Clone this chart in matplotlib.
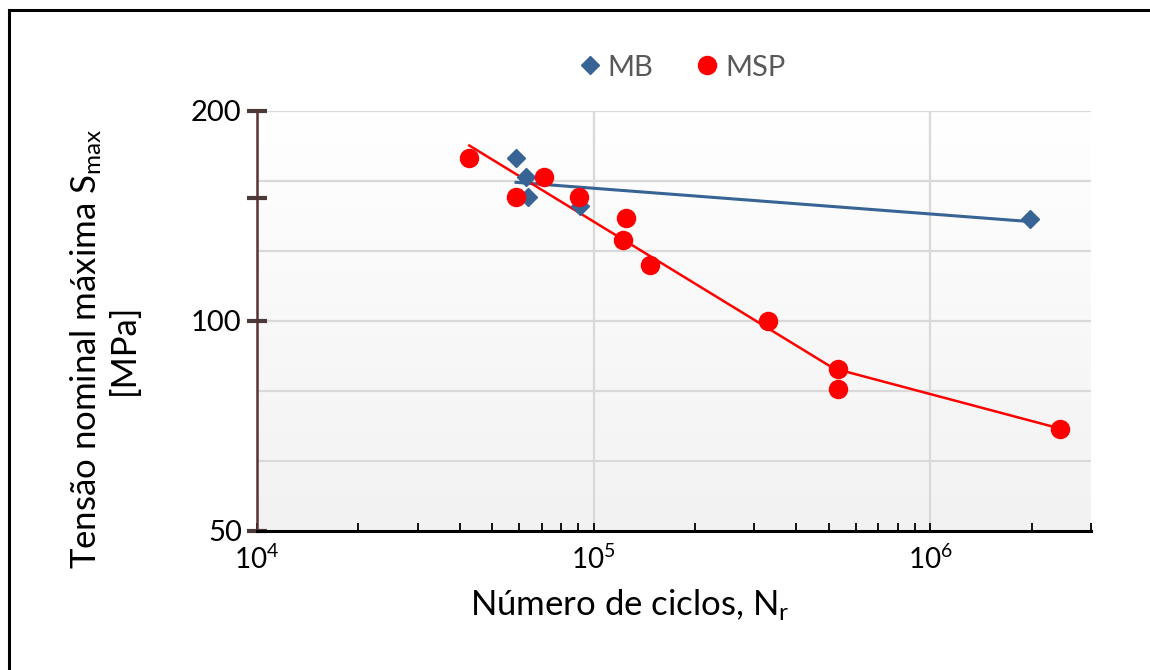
import numpy as np
import matplotlib
matplotlib.use("Agg")
import matplotlib.pyplot as plt
from matplotlib.lines import Line2D
from matplotlib.ticker import FixedLocator, LogFormatterMathtext, NullFormatter

plt.rcParams['font.family'] = ['Lato', 'DejaVu Sans']
plt.rcParams['mathtext.fontset'] = 'custom'
plt.rcParams['mathtext.rm'] = 'Lato'
plt.rcParams['mathtext.it'] = 'Lato:italic'
plt.rcParams['mathtext.bf'] = 'Lato:bold'

# Fatigue data: number of cycles to failure and max nominal stress [MPa]
mb_cycles = [5.88e4, 6.30e4, 6.40e4, 9.10e4, 1.98e6]
mb_stress = [171.0, 161.0, 150.5, 146.0, 140.0]

msp_cycles = [4.27e4, 5.88e4, 7.11e4, 9.05e4, 1.25e5, 1.22e5, 1.47e5,
              3.30e5, 5.31e5, 5.31e5, 2.43e6]
msp_stress = [171.3, 150.6, 160.8, 150.6, 140.3, 130.6, 120.4,
              100.0, 85.2, 80.0, 70.1]

# index groups for the two power-law fits of MSP
msp_fit1_idx = list(range(10))
msp_fit2_idx = [8, 10]

MB_COLOR = '#386395'
MSP_COLOR = '#FF0000'
TEXT_COLOR = '#000000'


def power_fit(x, y):
    lx, ly = np.log10(x), np.log10(y)
    b, a = np.polyfit(lx, ly, 1)
    xs = np.array([min(x), max(x)])
    return xs, 10 ** (a + b * np.log10(xs))


fig = plt.figure(figsize=(11.5, 6.7), dpi=100)
ax = fig.add_axes([0.2235, 0.2075, 0.7252, 0.6269])

# plot-area gradient: white at the top to light grey at the bottom
grad = np.linspace(1.0, 0.949, 256).reshape(-1, 1)
ax.imshow(np.dstack([grad, grad, grad]), extent=[0, 1, 0, 1], aspect='auto',
          transform=ax.transAxes, zorder=0, interpolation='bilinear')

ax.set_xscale('log')
ax.set_yscale('log')
ax.set_xlim(1e4, 3e6)
ax.set_ylim(50, 200)

# grid
for lvl in 200 * 2 ** (-np.arange(6) / 3):
    ax.axhline(lvl, color='#d9d9d9', lw=1.6, zorder=1)
for dec in [1e5, 1e6]:
    ax.axvline(dec, color='#d9d9d9', lw=1.6, zorder=1)

# trend lines
xs, ys = power_fit(mb_cycles, mb_stress)
ax.plot(xs, ys, color=MB_COLOR, lw=2.2, zorder=3)
for idx in (msp_fit1_idx, msp_fit2_idx):
    xs, ys = power_fit([msp_cycles[i] for i in idx], [msp_stress[i] for i in idx])
    ax.plot(xs, ys, color=MSP_COLOR, lw=1.8, zorder=3)

# markers
ax.plot(mb_cycles, mb_stress, 'D', color=MB_COLOR, ms=9.5, mec=MB_COLOR, zorder=4)
ax.plot(msp_cycles, msp_stress, 'o', color=MSP_COLOR, ms=13, mec=MSP_COLOR, zorder=5)

# spines
for s in ['top', 'right']:
    ax.spines[s].set_visible(False)
ax.spines['bottom'].set_color('#000000')
ax.spines['bottom'].set_linewidth(2.2)
ax.spines['left'].set_color('#5a3232')
ax.spines['left'].set_linewidth(1.8)

# x ticks
ax.xaxis.set_major_locator(FixedLocator([1e4, 1e5, 1e6]))
ax.xaxis.set_major_formatter(LogFormatterMathtext())
minor = [m * 10 ** e for e in (4, 5, 6) for m in range(2, 10) if m * 10 ** e <= 3e6]
ax.xaxis.set_minor_locator(FixedLocator(minor))
ax.xaxis.set_minor_formatter(NullFormatter())
ax.tick_params(axis='x', which='both', direction='in', length=6, width=1.3,
               color='#000000', labelsize=20, pad=10, labelcolor=TEXT_COLOR)

# y ticks
ax.yaxis.set_major_locator(FixedLocator([50, 100, 150, 200]))
ax.yaxis.set_major_formatter(plt.FuncFormatter(lambda v, p: '' if v == 150 else f'{v:g}'))
ax.yaxis.set_minor_locator(FixedLocator([]))
ax.yaxis.set_minor_formatter(NullFormatter())
ax.tick_params(axis='y', which='major', direction='inout', length=14, width=3,
               color='#4a3a3a', labelsize=21, pad=4, labelcolor=TEXT_COLOR)
for t in ax.yaxis.get_major_ticks():
    if t.get_loc() == 50:
        t.tick1line.set_visible(False)

ax.set_xlabel('Número de ciclos, N$_{\\mathrm{r}}$', fontsize=25, color=TEXT_COLOR)
ax.xaxis.set_label_coords(0.447, -0.135)
ax.set_ylabel('Tensão nominal máxima S$_{\\mathrm{max}}$\n[MPa]', fontsize=25,
              color=TEXT_COLOR, linespacing=1.15)
ax.yaxis.set_label_coords(-0.140, 0.433)

# legend
handles = [
    Line2D([], [], marker='D', ls='none', color=MB_COLOR, ms=9.5, label='MB'),
    Line2D([], [], marker='o', ls='none', color=MSP_COLOR, ms=13, label='MSP'),
]
leg = fig.legend(handles=handles, loc='center', bbox_to_anchor=(0.591, 0.899),
                 ncol=2, frameon=False, fontsize=21, handletextpad=0.05,
                 columnspacing=1.3, handlelength=1.1)
for txt in leg.get_texts():
    txt.set_color('#595959')

# outer frame (top and left edges)
fig.add_artist(Line2D([0.0078, 1.0], [0.985, 0.985], color='#000000', lw=2.2,
                      transform=fig.transFigure))
fig.add_artist(Line2D([0.0078, 0.0078], [0.0, 0.985], color='#000000', lw=2.2,
                      transform=fig.transFigure))

fig.savefig('out.png', dpi=100)
